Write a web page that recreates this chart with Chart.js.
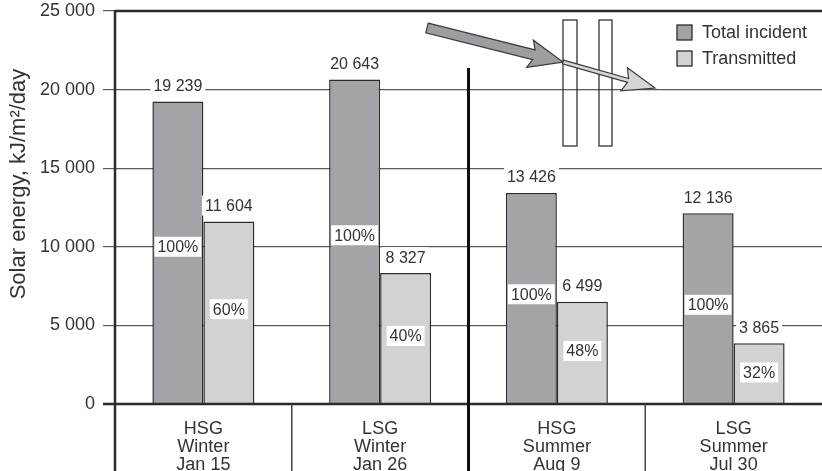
<!DOCTYPE html>
<html>
<head>
<meta charset="utf-8">
<script src="https://cdn.jsdelivr.net/npm/chart.js@4"></script>
<style>
  body { margin: 0; background: #fff; }
  #wrap { width: 822px; height: 471px; }
</style>
</head>
<body>
<div id="wrap"><canvas id="chart" width="822" height="471"></canvas></div>
<script>
// chart data
var categories = [["HSG", "Winter", "Jan 15"], ["LSG", "Winter", "Jan 26"], ["HSG", "Summer", "Aug 9"], ["LSG", "Summer", "Jul 30"]];
var seriesNames = ["Total incident", "Transmitted"];
var totalIncident = [19239, 20643, 13426, 12136];
var transmitted = [11604, 8327, 6499, 3865];
var incidentPct = [100, 100, 100, 100];
var transmittedPct = [60, 40, 48, 32];
var yTicks = [0, 5000, 10000, 15000, 20000, 25000];
var yTitle = "Solar energy, kJ/m²/day";

var FONT = "'Liberation Sans', Arial, sans-serif";
var DARK = "#a3a4a7";
var LIGHT = "#d1d2d4";
var INK = "#2b2b2b";

function fmt(n){ // 19239 -> "19 239"
	return String(n).replace(/\B(?=(\d{3})+(?!\d))/g, " ");
}

function boxedText(ctx, txt, x, y, size){
	ctx.font = size + "px " + FONT;
	var w = ctx.measureText(txt).width;
	ctx.fillStyle = "#fff";
	ctx.fillRect(x - w/2 - 3, y - size/2 - 2, w + 6, size + 4);
	ctx.fillStyle = "#333";
	ctx.textAlign = "center";
	ctx.textBaseline = "middle";
	ctx.fillText(txt, x, y + 1);
}

function arrow(ctx, x0, y0, x1, y1, shaft, headW, headL, fill){
	var a = Math.atan2(y1 - y0, x1 - x0);
	var len = Math.hypot(x1 - x0, y1 - y0);
	ctx.save();
	ctx.translate(x0, y0);
	ctx.rotate(a);
	ctx.beginPath();
	ctx.moveTo(0, -shaft/2);
	ctx.lineTo(len - headL, -shaft/2);
	ctx.lineTo(len - headL - 4, -headW/2);
	ctx.lineTo(len, 0);
	ctx.lineTo(len - headL - 4, headW/2);
	ctx.lineTo(len - headL, shaft/2);
	ctx.lineTo(0, shaft/2);
	ctx.closePath();
	ctx.fillStyle = fill;
	ctx.fill();
	ctx.strokeStyle = "#3a3a3a";
	ctx.lineWidth = 1.2;
	ctx.stroke();
	ctx.restore();
}

var decor = {
	id: "decor",
	afterDatasetsDraw: function(chart){
		var ctx = chart.ctx;
		var area = chart.chartArea;
		var x = chart.scales.x, y = chart.scales.y;
		var H = chart.height;
		ctx.save();

		// frame: top border, zero line, left axis
		ctx.strokeStyle = INK;
		ctx.lineWidth = 2.5;
		ctx.beginPath();
		ctx.moveTo(area.left, y.getPixelForValue(yTicks[yTicks.length-1]));
		ctx.lineTo(area.right, y.getPixelForValue(yTicks[yTicks.length-1]));
		ctx.moveTo(area.left - 12, y.getPixelForValue(0));
		ctx.lineTo(area.right, y.getPixelForValue(0));
		ctx.moveTo(area.left, area.top - 1);
		ctx.lineTo(area.left, H);
		ctx.stroke();

		// thin separators in the category table
		var step = (area.right - area.left) / categories.length;
		ctx.lineWidth = 1.5;
		ctx.strokeStyle = "#444";
		ctx.beginPath();
		[1, 3].forEach(function(i){
			ctx.moveTo(area.left + step*i, area.bottom);
			ctx.lineTo(area.left + step*i, H);
		});
		ctx.stroke();

		// winter / summer divider
		ctx.lineWidth = 3;
		ctx.strokeStyle = "#111";
		ctx.beginPath();
		ctx.moveTo(area.left + step*2, area.top + 57);
		ctx.lineTo(area.left + step*2, H);
		ctx.stroke();

		// glazing panes and sun ray
		ctx.lineWidth = 1.3;
		ctx.strokeStyle = "#333";
		ctx.strokeRect(area.left + 448, area.top + 9, 14, 126);
		ctx.strokeRect(area.left + 484, area.top + 9, 13, 126);
		arrow(ctx, area.left + 312, area.top + 17, area.left + 448, area.top + 51, 10, 28, 30, "#9d9ea1");
		arrow(ctx, area.left + 448, area.top + 51, area.left + 540, area.top + 77, 4, 24, 28, "#d4d5d7");

		// value labels over bars, percent labels inside
		var pct = [incidentPct, transmittedPct];
		chart.data.datasets.forEach(function(ds, di){
			var meta = chart.getDatasetMeta(di);
			meta.data.forEach(function(bar, i){
				boxedText(ctx, fmt(ds.data[i]), bar.x, bar.y - 16, 16);
				boxedText(ctx, pct[di][i] + "%", bar.x, y.getPixelForValue(ds.data[i] * 0.52), 16);
			});
		});

		// legend
		var lx = area.right - 145, ly = area.top + 21;
		chart.data.datasets.forEach(function(ds, di){
			ctx.fillStyle = ds.backgroundColor;
			ctx.fillRect(lx, ly + di*26 - 7, 15, 15);
			ctx.lineWidth = 1.3;
			ctx.strokeStyle = INK;
			ctx.strokeRect(lx, ly + di*26 - 7, 15, 15);
			ctx.fillStyle = "#333";
			ctx.font = "18px " + FONT;
			ctx.textAlign = "left";
			ctx.textBaseline = "middle";
			ctx.fillText(ds.label, lx + 25, ly + di*26 + 1);
		});

		// y axis title
		ctx.translate(19, 184);
		ctx.rotate(-Math.PI/2);
		ctx.font = "22px " + FONT;
		ctx.fillStyle = "#333";
		ctx.textAlign = "center";
		ctx.textBaseline = "middle";
		ctx.fillText(yTitle, 0, 0);
		ctx.restore();
	}
};

new Chart(document.getElementById("chart"), {
	type: "bar",
	data: {
		labels: categories,
		datasets: [
			{ label: seriesNames[0], data: totalIncident, backgroundColor: DARK, borderColor: INK, borderWidth: 1.5 },
			{ label: seriesNames[1], data: transmitted, backgroundColor: LIGHT, borderColor: INK, borderWidth: 1.5 }
		]
	},
	options: {
		responsive: false,
		animation: false,
		layout: { padding: { top: 11, right: 0, left: 0, bottom: 0 } },
		categoryPercentage: 0.577,
		barPercentage: 1,
		plugins: { legend: { display: false }, tooltip: { enabled: false } },
		scales: {
			x: {
				grid: { display: false, drawTicks: false },
				border: { display: false },
				ticks: {
					color: "#333",
					font: { family: FONT, size: 18, lineHeight: 1 },
					padding: 16,
					maxRotation: 0,
					autoSkip: false
				},
				afterFit: function(s){ s.height = 67; s.paddingLeft = 0; s.paddingRight = 0; }
			},
			y: {
				min: 0,
				max: 25000,
				afterBuildTicks: function(s){ s.ticks = yTicks.map(function(v){ return { value: v }; }); },
				grid: { color: "#5a5a5a", lineWidth: 1.2, tickLength: 12, drawTicks: true },
				border: { display: false },
				ticks: {
					color: "#333",
					font: { family: FONT, size: 18 },
					padding: 8,
					callback: function(v){ return fmt(v); }
				},
				afterFit: function(s){ s.width = 115; s.paddingTop = 0; s.paddingBottom = 0; }
			}
		}
	},
	plugins: [decor]
});
</script>
</body>
</html>
